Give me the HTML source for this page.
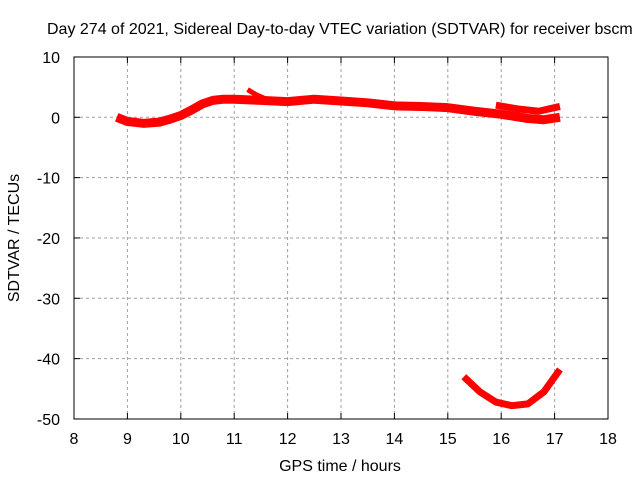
<!DOCTYPE html>
<html><head><meta charset="utf-8"><style>
body{margin:0;background:#fff}
svg text{font-family:"Liberation Sans",sans-serif;font-size:16px;fill:#000}
</style></head><body>
<svg id="c" width="640" height="480" xmlns="http://www.w3.org/2000/svg">
<rect width="640" height="480" fill="#fff"/>
<g id="grid"></g>
<g id="ticks"></g>
<g id="series"></g>
<rect x="74" y="57" width="534" height="362" fill="none" stroke="#000" stroke-width="1"/>
<text x="47" y="34">Day 274 of 2021, Sidereal Day-to-day VTEC variation (SDTVAR) for receiver bscm</text>
<text x="340" y="471" text-anchor="middle">GPS time / hours</text>
<text x="0" y="0" text-anchor="middle" transform="translate(19,238) rotate(-90)">SDTVAR / TECUs</text>
</svg>
<script>
const xTicks=[8,9,10,11,12,13,14,15,16,17,18];
const yTicks=[10,0,-10,-20,-30,-40,-50];
const mainT=[8.8,9.0,9.3,9.6,9.8,10.0,10.2,10.4,10.6,10.8,11.0,11.5,12.0,12.5,13.0,13.5,14.0,14.5,15.0,15.5,16.0,16.5,16.8,17.1];
const mainV=[0,-0.7,-1.0,-0.8,-0.3,0.3,1.2,2.2,2.8,3.0,3.0,2.8,2.6,3.0,2.7,2.4,1.9,1.8,1.6,1.0,0.5,-0.2,-0.4,0.0];
const spikeT=[11.25,11.4,11.6];
const spikeV=[4.6,3.8,3.0];
const branchT=[15.9,16.3,16.7,17.1];
const branchV=[2.0,1.4,1.0,1.8];
const lowT=[15.3,15.6,15.9,16.2,16.5,16.8,17.1];
const lowV=[-43,-45.5,-47.2,-47.8,-47.5,-45.5,-41.8];
const X=t=>74+(t-8)*53.4;
const Y=v=>117.3-v*6.033;
const NS='http://www.w3.org/2000/svg';
function mk(tag,attrs,parent){const e=document.createElementNS(NS,tag);for(const k in attrs)e.setAttribute(k,attrs[k]);parent.appendChild(e);return e;}
const grid=document.getElementById('grid'),ticks=document.getElementById('ticks'),ser=document.getElementById('series');
xTicks.forEach(t=>{
  if(t>8&&t<18){const g=mk('line',{x1:X(t),x2:X(t),y1:57,y2:419,stroke:'#a0a0a0','stroke-dasharray':'3,3'},grid);
  
  }
  mk('line',{x1:X(t),x2:X(t),y1:419,y2:413,stroke:'#000'},ticks);
  mk('line',{x1:X(t),x2:X(t),y1:57,y2:63,stroke:'#000'},ticks);
  const l=mk('text',{x:X(t),y:444,'text-anchor':'middle'},ticks);l.textContent=t;
  
  
});
yTicks.forEach(v=>{
  if(v<10&&v>-50){const g=mk('line',{x1:74,x2:608,y1:Y(v),y2:Y(v),stroke:'#a0a0a0','stroke-dasharray':'3,3'},grid);
  
  }
  mk('line',{x1:74,x2:80,y1:Y(v),y2:Y(v),stroke:'#000'},ticks);
  mk('line',{x1:608,x2:602,y1:Y(v),y2:Y(v),stroke:'#000'},ticks);
  const l=mk('text',{x:60,y:Y(v)+6,'text-anchor':'end'},ticks);l.textContent=v;
  
  
});
function line(T,V,w,name){
  const p=mk('polyline',{points:T.map((t,i)=>X(t)+','+Y(V[i])).join(' '),fill:'none',stroke:'#ff0000','stroke-width':w,'stroke-linejoin':'round','stroke-linecap':'butt'},ser);
  
  
}
line(mainT,mainV,9,'series-main');
line(spikeT,spikeV,5,'series-spike');
line(branchT,branchV,7,'series-branch');
line(lowT,lowV,7,'series-low');
</script>
</body></html>
